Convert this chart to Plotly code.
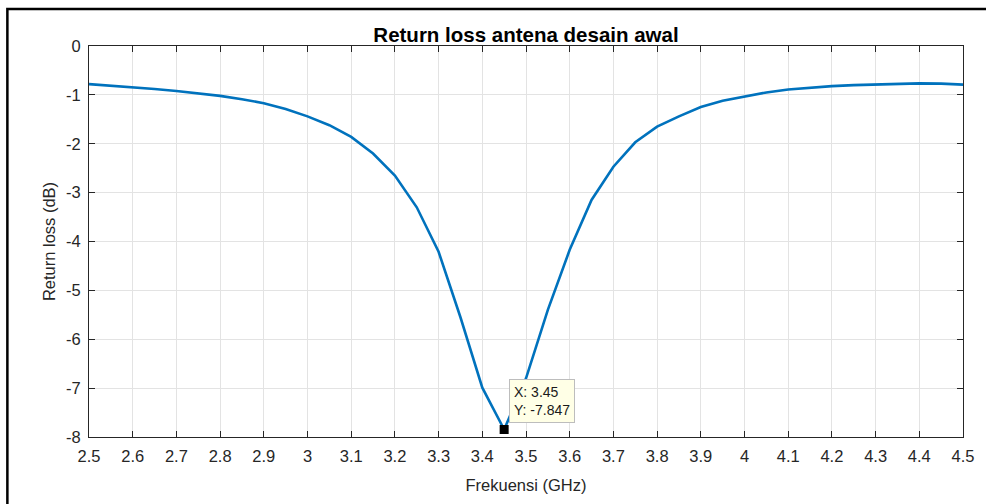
import plotly.graph_objects as go

freq_ghz = [2.5, 2.55, 2.6, 2.65, 2.7, 2.75, 2.8, 2.85, 2.9, 2.95, 3.0, 3.05, 3.1, 3.15,
            3.2, 3.25, 3.3, 3.35, 3.4, 3.45, 3.5, 3.55, 3.6, 3.65, 3.7, 3.75, 3.8, 3.85,
            3.9, 3.95, 4.0, 4.05, 4.1, 4.15, 4.2, 4.25, 4.3, 4.35, 4.4, 4.45, 4.5]
return_loss_db = [-0.78, -0.81, -0.845, -0.88, -0.92, -0.97, -1.02, -1.09, -1.17, -1.29,
                  -1.44, -1.62, -1.86, -2.2, -2.65, -3.3, -4.21, -5.55, -6.99, -7.847,
                  -6.8, -5.4, -4.17, -3.15, -2.47, -1.97, -1.65, -1.44, -1.25, -1.12,
                  -1.03, -0.95, -0.89, -0.85, -0.82, -0.80, -0.785, -0.77, -0.765, -0.77, -0.79]
x_ticks = [2.5, 2.6, 2.7, 2.8, 2.9, 3.0, 3.1, 3.2, 3.3, 3.4, 3.5, 3.6, 3.7, 3.8, 3.9,
           4.0, 4.1, 4.2, 4.3, 4.4, 4.5]
x_tick_labels = ["2.5", "2.6", "2.7", "2.8", "2.9", "3", "3.1", "3.2", "3.3", "3.4", "3.5",
                 "3.6", "3.7", "3.8", "3.9", "4", "4.1", "4.2", "4.3", "4.4", "4.5"]
y_ticks = [0, -1, -2, -3, -4, -5, -6, -7, -8]
tip_index = 19

font = "Liberation Sans, Arial, sans-serif"
axcol = "#262626"
gridcol = "#e3e3e3"

fig = go.Figure()
fig.add_trace(go.Scatter(x=freq_ghz, y=return_loss_db, mode="lines",
                         line=dict(color="#0072BD", width=2.6), hoverinfo="skip"))
fig.add_trace(go.Scatter(x=[freq_ghz[tip_index]], y=[return_loss_db[tip_index]], mode="markers",
                         marker=dict(symbol="square", color="black", size=9), hoverinfo="skip"))

fig.add_annotation(x=freq_ghz[tip_index], y=return_loss_db[tip_index],
                   text=f"X: {freq_ghz[tip_index]:g}<br>Y: {return_loss_db[tip_index]:g}",
                   showarrow=False, xanchor="left", yanchor="bottom", xshift=5, yshift=7,
                   align="left", bgcolor="#FFFFE6", bordercolor="#bdbdbd", borderwidth=1,
                   borderpad=4, font=dict(family=font, size=14, color="#1a1a1a"))

axis_common = dict(showgrid=True, gridcolor=gridcol, gridwidth=1, zeroline=False,
                   showline=True, linecolor=axcol, linewidth=1, mirror="ticks",
                   ticks="inside", ticklen=6, tickcolor=axcol, tickwidth=1,
                   ticklabelstandoff=4,
                   tickfont=dict(family=font, size=16.5, color=axcol))

fig.update_layout(
    width=986, height=504,
    margin=dict(l=89, r=19, t=46, b=67),
    paper_bgcolor="white", plot_bgcolor="white",
    showlegend=False,
    title=dict(text="<b>Return loss antena desain awal</b>", x=0.5, xref="paper",
               xanchor="center", y=1, yref="paper", yanchor="bottom", pad=dict(b=4),
               font=dict(family=font, size=20.5, color="black")),
    xaxis=dict(range=[2.5, 4.5], tickvals=x_ticks, ticktext=x_tick_labels,
               title=dict(text="Frekuensi (GHz)", font=dict(family=font, size=16.5, color=axcol),
                          standoff=15),
               **axis_common),
    yaxis=dict(range=[-8, 0], tickvals=y_ticks, ticktext=[str(v) for v in y_ticks],
               title=dict(text="Return loss (dB)", font=dict(family=font, size=16.5, color=axcol),
                          standoff=6),
               **axis_common),
)

fig.add_shape(type="rect", xref="paper", yref="paper",
              x0=(7 - 89) / 878, x1=(995 - 89) / 878,
              y0=(437 - 515) / 391, y1=(437 - 9) / 391,
              line=dict(color="black", width=2.5), fillcolor="rgba(0,0,0,0)", layer="above")

fig.write_html("out.html", config={"displayModeBar": False},
               post_script="document.body.style.margin='0';document.body.style.overflow='hidden';")
